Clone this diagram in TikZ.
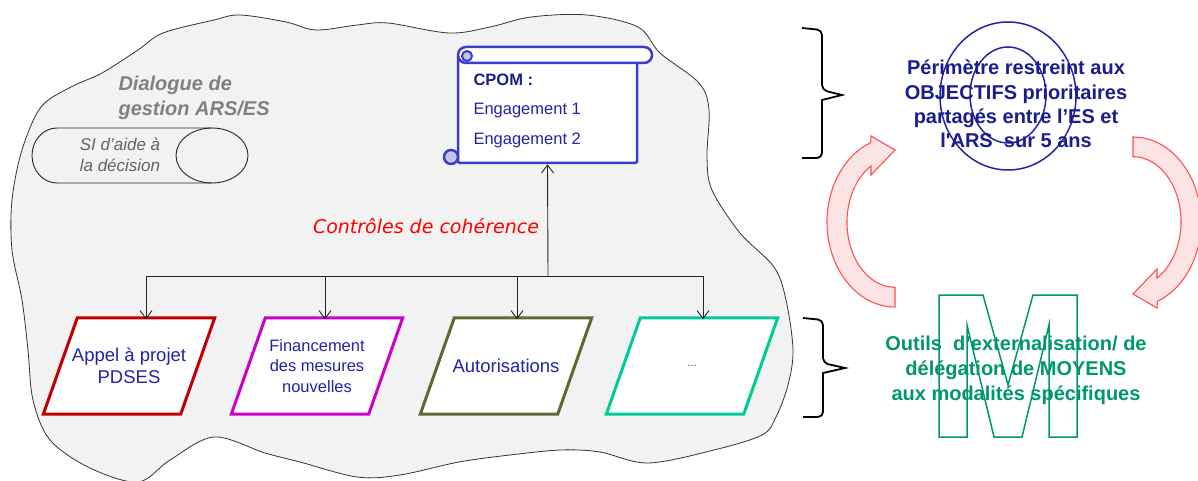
\documentclass[tikz,border=0pt]{standalone}
\usepackage{fontspec}
\setmainfont{Liberation Sans}
\newfontfamily\dejavu{DejaVu Sans}
\usetikzlibrary{arrows.meta,backgrounds}

\definecolor{cloudfill}{RGB}{242,242,242}
\definecolor{titlegray}{RGB}{128,128,128}
\definecolor{sigray}{RGB}{100,100,100}
\definecolor{scrollblue}{RGB}{60,60,205}
\definecolor{scrolllight}{RGB}{195,195,230}
\definecolor{navy}{RGB}{25,30,140}
\definecolor{textblue}{RGB}{35,35,165}
\definecolor{appelred}{RGB}{192,0,0}
\definecolor{finmagenta}{RGB}{204,0,204}
\definecolor{autolive}{RGB}{102,102,51}
\definecolor{autrevert}{RGB}{0,204,153}
\definecolor{ringblue}{RGB}{35,35,170}
\definecolor{moyensgreen}{RGB}{0,150,110}
\definecolor{cyclered}{RGB}{255,80,80}
\definecolor{cyclefill}{RGB}{253,228,228}

\begin{document}
\begin{tikzpicture}[x=1pt, y=-1pt,
        >={Straight Barb[length=8,width=12]},
        link/.style={black!85, line width=0.9},
        para/.style={minimum width=137, minimum height=96, inner sep=0,
            text=textblue, align=center},
        scrollline/.style={draw=scrollblue, line width=2.5},
        bracket/.style={black, line width=1.8},
        cyclearrow/.style={draw=cyclered, fill=cyclefill, line width=1.1},
        cycle arrow/.pic={
            \draw[cyclearrow] (0,85) arc[start angle=90, end angle=249, x radius=68, y radius=85]
                -- (-24,-86) -- (0,-72) -- (-24,-47) -- (-24,-56)
                arc[start angle=240, end angle=90, x radius=48, y radius=65] -- cycle;
        }]
    \useasboundingbox (0,0) rectangle (1198,481);

    % zone de dialogue
    \begin{scope}[on background layer]
    \draw[fill=cloudfill, draw=black!80, line width=0.8] plot[smooth cycle, tension=0.55] coordinates {
        (240,15) (286,22) (316,30) (357,25) (388,23) (449,33) (490,27) (531,17) (587,15)
        (638,27) (660,53) (699,83) (709,110) (707,157) (712,190) (740,233) (774,267)
        (786,300) (793,350) (788,385) (776,417) (762,435) (714,450) (648,463) (600,452)
        (561,450) (510,455) (459,462) (400,475) (357,477) (300,462) (265,453) (214,437)
        (170,460) (138,482) (90,468) (50,440) (33,400) (28,350) (22,300) (12,250)
        (12,200) (22,150) (41,107) (71,87) (102,73) (138,50) (163,33) (214,20)};
    \end{scope}

    \node[anchor=west, align=left, text=titlegray,
        font=\fontsize{20}{25}\selectfont\bfseries\itshape] (dialogue) at (115,97.5)
        {Dialogue de\\gestion ARS/ES};

    % SI
    \draw[black!85, line width=0.9] (212,128) -- (57,128)
        arc[start angle=270, end angle=90, x radius=25, y radius=27.5] -- (212,183);
    \draw[black!85, line width=0.9] (212,155.5) ellipse [x radius=36, y radius=27.5];
    \node[align=center, text=sigray, font=\fontsize{17}{20.5}\selectfont\itshape] (si)
        at (120,155) {SI d’aide à\\la décision};

    % CPOM
    \node[scrollline, fill=white, rounded corners=2, minimum width=179, minimum height=108]
        (cpom) at (547.5,109) {};
    \draw[scrollline, fill=white, rounded corners=8] (458,47) rectangle (652,63);
    \draw[scrollline, line width=2, fill=scrolllight] (467,56) circle (5);
    \draw[scrollline, fill=scrolllight] (451,157) circle (7);
    \node[anchor=west, text=navy, font=\fontsize{16.5}{19}\selectfont\bfseries] (cpomtitle)
        at (470,80) {CPOM :};
    \node[anchor=west, text=textblue, font=\fontsize{16.5}{19}\selectfont] (eng1)
        at (470,111) {Engagement 1};
    \node[anchor=west, text=textblue, font=\fontsize{16.5}{19}\selectfont] (eng2)
        at (470,140) {Engagement 2};

    % outils
    \node[para, font=\fontsize{18.5}{22}\selectfont] (appel) at (129,366)
        {Appel à projet\\PDSES};
    \node[para, font=\fontsize{16.5}{20.5}\selectfont] (financement)
        [right of=appel, node distance=188] {Financement\\des mesures\\nouvelles};
    \node[para, font=\fontsize{18.5}{22}\selectfont] (autorisations)
        [right of=financement, node distance=189] {Autorisations};
    \node[para, font=\fontsize{10}{12}\selectfont] (autres)
        [right of=autorisations, node distance=186] {\dots};

    \begin{scope}[on background layer]
    \foreach \n/\c in {appel/appelred, financement/finmagenta, autorisations/autolive, autres/autrevert}
        \draw[\c, line width=3, fill=white] ([xshift=17]\n.north west) -- ([xshift=17]\n.north east)
            -- ([xshift=-17]\n.south east) -- ([xshift=-17]\n.south west) -- cycle;
    \end{scope}

    \coordinate (bus) at (548,276);
    \draw[link] ([xshift=17]appel.north |- bus) -- ([xshift=11]autres.north |- bus);
    \draw[link,->] (bus) -- (cpom.south);
    \foreach \n/\dx in {appel/17, financement/8, autorisations/11, autres/11}
        \draw[link,->] ([xshift=\dx]\n.north |- bus) -- ([xshift=\dx, yshift=-1.5]\n.north);

    \node[text=red, font=\fontsize{19}{22}\selectfont\dejavu\itshape] (controles)
        at (426,226) {Contrôles de cohérence};

    % accolades
    \draw[bracket] (802,28) [rounded corners=5] -- (822,30) -- (822,90) [sharp corners]
        -- (842,95) -- (822,100) [rounded corners=5] -- (822,158) -- (802,158);
    \draw[bracket] (803,318) [rounded corners=5] -- (823,320) -- (823,363) [sharp corners]
        -- (845,368) -- (823,373) [rounded corners=5] -- (823,417) -- (803,417);

    % cycle
    \pic at (895,222) {cycle arrow};
    \pic[rotate=180] at (1133,222) {cycle arrow};

    % objectifs
    \draw[ringblue, line width=1.5] (1008,96) ellipse [x radius=68, y radius=74];
    \draw[ringblue, line width=1.5] (1008,95) ellipse [x radius=38, y radius=48];
    \node[align=center, text=navy, font=\fontsize{20}{24.3}\selectfont\bfseries] (objectifs)
        at (1016,104) {Périmètre restreint aux\\OBJECTIFS prioritaires\\partagés entre l’ES et\\l\textquotesingle ARS~ sur 5 ans};

    % moyens
    \draw[moyensgreen, line width=1.5] (939,295) -- (983,295) -- (1008,385) -- (1033,295)
        -- (1077,295) -- (1077,437) -- (1049,437) -- (1049,325) -- (1022,437) -- (994,437)
        -- (967,325) -- (967,437) -- (939,437) -- cycle;
    \node[align=center, text=moyensgreen, font=\fontsize{20}{25}\selectfont\bfseries] (moyens)
        at (1016,370) {Outils~ d’externalisation/ de\\délégation de MOYENS\\aux modalités spécifiques};
\end{tikzpicture}
\end{document}
